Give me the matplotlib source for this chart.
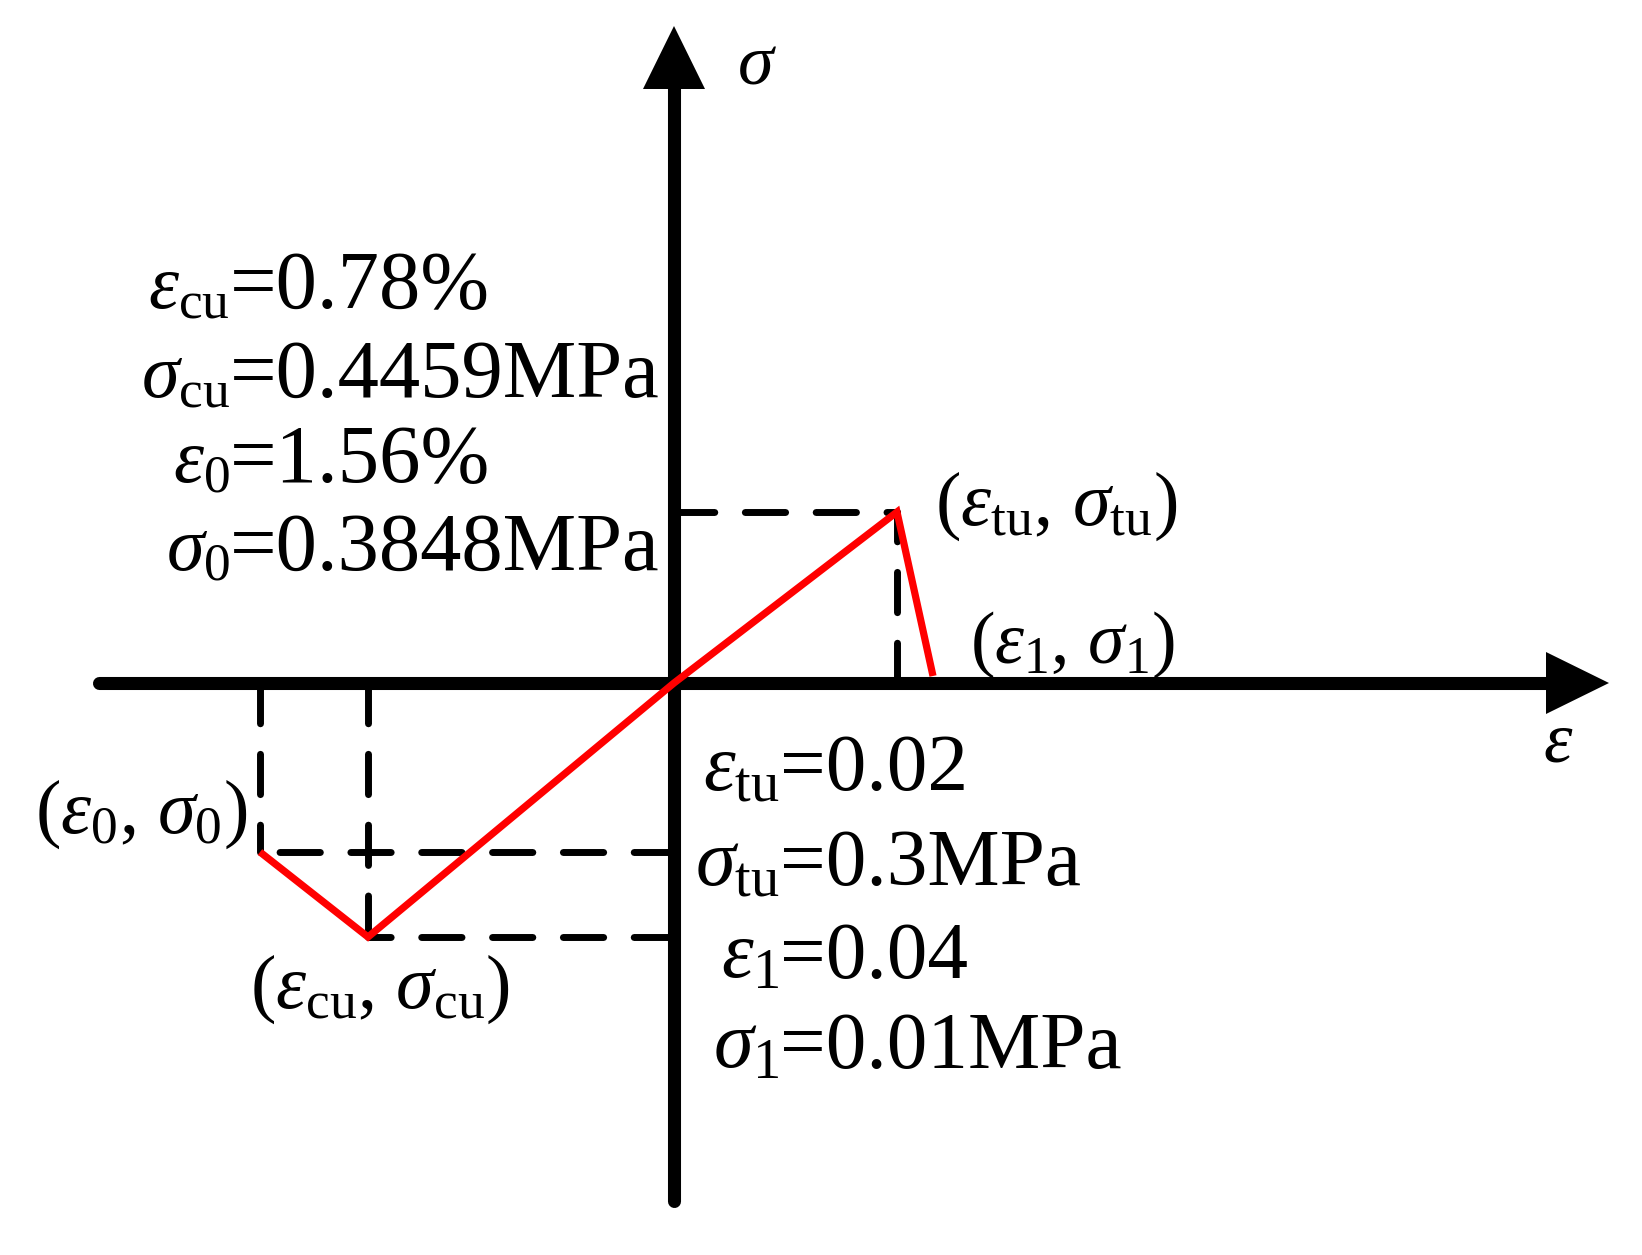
import matplotlib
matplotlib.use("Agg")
import matplotlib.pyplot as plt
from matplotlib.patches import Polygon

plt.rcParams['font.family'] = ['Liberation Serif', 'DejaVu Serif']
plt.rcParams['mathtext.fontset'] = 'custom'
plt.rcParams['mathtext.rm'] = 'Liberation Serif'
plt.rcParams['mathtext.it'] = 'Liberation Serif:italic'
plt.rcParams['mathtext.bf'] = 'Liberation Serif:bold'

# Schematic key points of the constitutive curve (schematic units, origin at 0)
point_names = ['(eps0, sig0)', '(epscu, sigcu)', 'O', '(epstu, sigtu)', '(eps1, sig1)']
strain_pts = [-414, -306, 0, 223, 259]
stress_pts = [-169, -254, 0, 171, 7]

# Axis extents (schematic units)
x_axis_min, x_axis_max = -575, 935
y_axis_min, y_axis_max = -518, 657

# Parameter annotations
left_syms = [r'$\varepsilon_{\rm cu}$', r'$\sigma_{\rm cu}$', r'$\varepsilon_{0}$', r'$\sigma_{0}$']
left_vals = ['=0.78%', '=0.4459MPa', '=1.56%', '=0.3848MPa']
right_syms = [r'$\varepsilon_{\rm tu}$', r'$\sigma_{\rm tu}$', r'$\varepsilon_{1}$', r'$\sigma_{1}$']
right_vals = ['=0.02', '=0.3MPa', '=0.04', '=0.01MPa']
point_labels = [r'($\varepsilon_{0}$, $\sigma_{0}$)', r'($\varepsilon_{\rm cu}$, $\sigma_{\rm cu}$)',
                r'($\varepsilon_{\rm tu}$, $\sigma_{\rm tu}$)', r'($\varepsilon_{1}$, $\sigma_{1}$)']

fig = plt.figure(figsize=(16.42, 12.55), dpi=100)
ax = fig.add_axes([0, 0, 1, 1])
ax.set_xlim(-674, 968)
ax.set_ylim(-572, 683)
ax.axis('off')

dash_kw = dict(color='black', lw=5, linestyle=(0, (5.8, 4.4)), dash_capstyle='round', zorder=2)
# dashed projection lines from axes to key points
for i in [0, 1, 3]:
    ax.plot([strain_pts[i], strain_pts[i]], [0, stress_pts[i]], **dash_kw)
    ax.plot([0, strain_pts[i]], [stress_pts[i], stress_pts[i]], **dash_kw)

# axes with arrows
axis_lw = 9.4
head_len, head_half = 63, 31
ax.plot([x_axis_min, x_axis_max - head_len + 2], [0, 0], color='black', lw=axis_lw,
        solid_capstyle='round', zorder=3)
ax.plot([0, 0], [y_axis_min, y_axis_max - head_len + 2], color='black', lw=axis_lw,
        solid_capstyle='round', zorder=3)
ax.add_patch(Polygon([[x_axis_max, 0], [x_axis_max - head_len, head_half],
                      [x_axis_max - head_len, -head_half]], closed=True, color='black', lw=0, zorder=3))
ax.add_patch(Polygon([[0, y_axis_max], [-head_half, y_axis_max - head_len],
                      [head_half, y_axis_max - head_len]], closed=True, color='black', lw=0, zorder=3))

# red curve
ax.plot(strain_pts, stress_pts, color='#ff0000', lw=5.2, solid_capstyle='butt',
        solid_joinstyle='miter', zorder=4)

# axis labels
ax.text(63, 600, r'$\sigma$', fontsize=52, ha='left', va='baseline')
ax.text(869, -79, r'$\varepsilon$', fontsize=52, ha='left', va='baseline')

# point labels
fs_lab = 55
ax.text(-639, -150, point_labels[0], fontsize=fs_lab, ha='left', va='baseline')
ax.text(-424, -325, point_labels[1], fontsize=fs_lab, ha='left', va='baseline')
ax.text(261, 158, point_labels[2], fontsize=fs_lab, ha='left', va='baseline')
ax.text(296, 20, point_labels[3], fontsize=53, ha='left', va='baseline')

# parameter blocks
left_eq_x = -444
left_base = [375, 286, 201, 113]
for s, v, y in zip(left_syms, left_vals, left_base):
    ax.text(left_eq_x, y, s, fontsize=55, ha='right', va='baseline')
    ax.text(left_eq_x, y, v, fontsize=59.5, ha='left', va='baseline')

right_eq_x = 106
right_base = [-107, -202, -295, -385]
for s, v, y in zip(right_syms, right_vals, right_base):
    ax.text(right_eq_x, y, s, fontsize=58, ha='right', va='baseline')
    ax.text(right_eq_x, y, v, fontsize=58.5, ha='left', va='baseline')

fig.savefig('out.png', dpi=100)
